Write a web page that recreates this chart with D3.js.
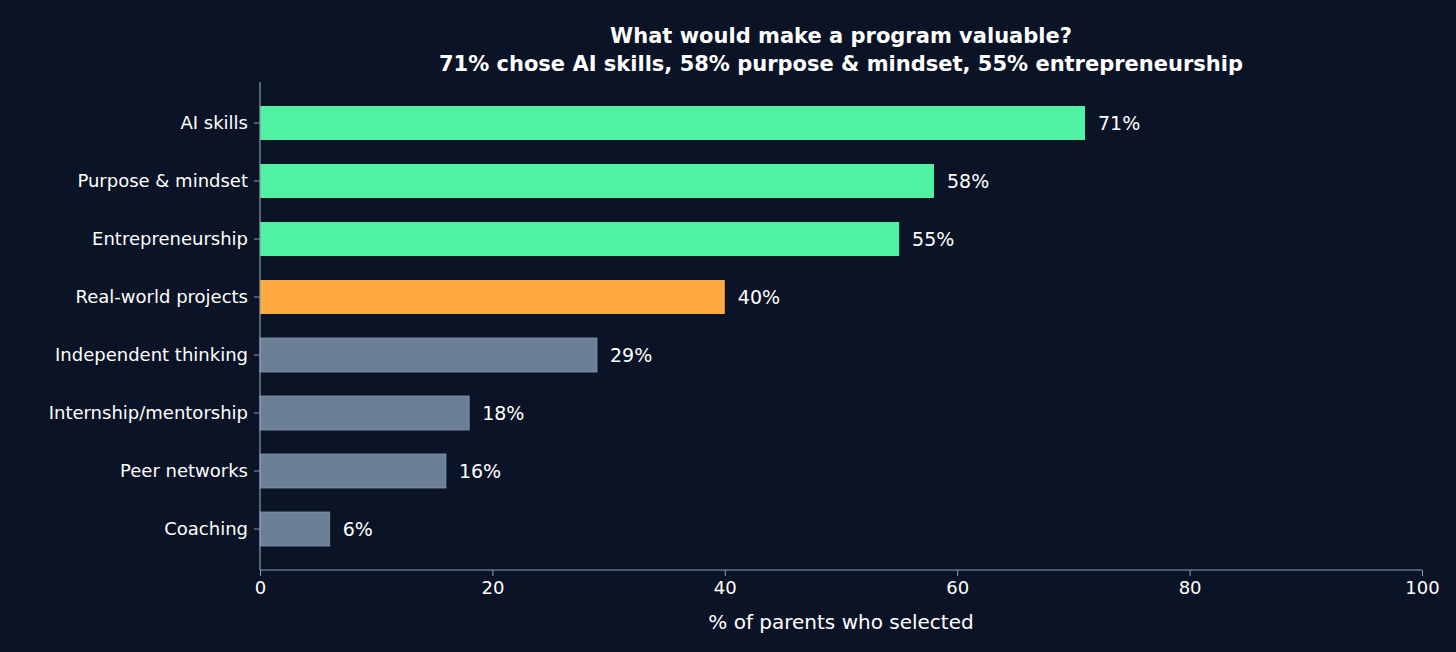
<!DOCTYPE html>
<html><head><meta charset="utf-8">
<script src="https://cdn.jsdelivr.net/npm/d3@7"></script>
<style>body{margin:0;background:#0b1426;}svg{display:block;font-family:"DejaVu Sans",sans-serif;}</style>
</head><body><svg id="c" width="1456" height="652"></svg>
<script>
const categories=["AI skills","Purpose & mindset","Entrepreneurship","Real-world projects","Independent thinking","Internship/mentorship","Peer networks","Coaching"];
const values=[71,58,55,40,29,18,16,6];
const colors=["#52f2a3","#52f2a3","#52f2a3","#ffa940","#6b7f96","#6b7f96","#6b7f96","#6b7f96"];
const xTicks=[0,20,40,60,80,100];
const titleLines=["What would make a program valuable?","71% chose AI skills, 58% purpose & mindset, 55% entrepreneurship"];
const xLabel="% of parents who selected";

const svg=d3.select("#c");
svg.append("rect").attr("width",1456).attr("height",652).attr("fill","#0b1426");
const x=d3.scaleLinear().domain([0,100]).range([260,1422]);
const y=d3.scaleBand().domain(categories).range([94,558]).paddingInner(0.414).paddingOuter(0.207);
svg.selectAll(".bar").data(values).join("rect")
 .attr("x",x(0)).attr("y",(d,i)=>y(categories[i]))
 .attr("width",d=>x(d)-x(0)).attr("height",y.bandwidth())
 .attr("fill",(d,i)=>colors[i]).attr("stroke",(d,i)=>i>3?"#8a9bb0":"none").attr("stroke-width",0.8);
svg.selectAll(".lbl").data(values).join("text")
 .attr("x",d=>x(d)+13).attr("y",(d,i)=>y(categories[i])+y.bandwidth()/2)
 .attr("dy","0.35em").attr("fill","#ffffff").attr("font-size",19).text(d=>d+"%");
const xa=svg.append("g").attr("transform","translate(0,570)").call(d3.axisBottom(x).tickValues(xTicks).tickSize(6).tickPadding(5));
const ya=svg.append("g").attr("transform","translate(260,0)").call(d3.axisLeft(y).tickSize(6).tickPadding(6));
[xa,ya].forEach(a=>{a.selectAll("path").attr("stroke","#8a9bb0").attr("stroke-width",1.2);
 a.selectAll("line").attr("stroke","#8a9bb0");a.selectAll("text").attr("fill","#ffffff").attr("font-size",18).attr("font-family","DejaVu Sans");});
ya.select("path").attr("d","M0,82V570");
xa.select("path").attr("d","M260,0H1422");
svg.append("text").attr("x",841).attr("y",629).attr("text-anchor","middle").attr("fill","#fff").attr("font-size",20).text(xLabel);
titleLines.forEach((t,i)=>svg.append("text").attr("x",841).attr("y",43+i*28).attr("text-anchor","middle").attr("fill","#fff").attr("font-weight","bold").attr("font-size",21).text(t));
</script></body></html>
